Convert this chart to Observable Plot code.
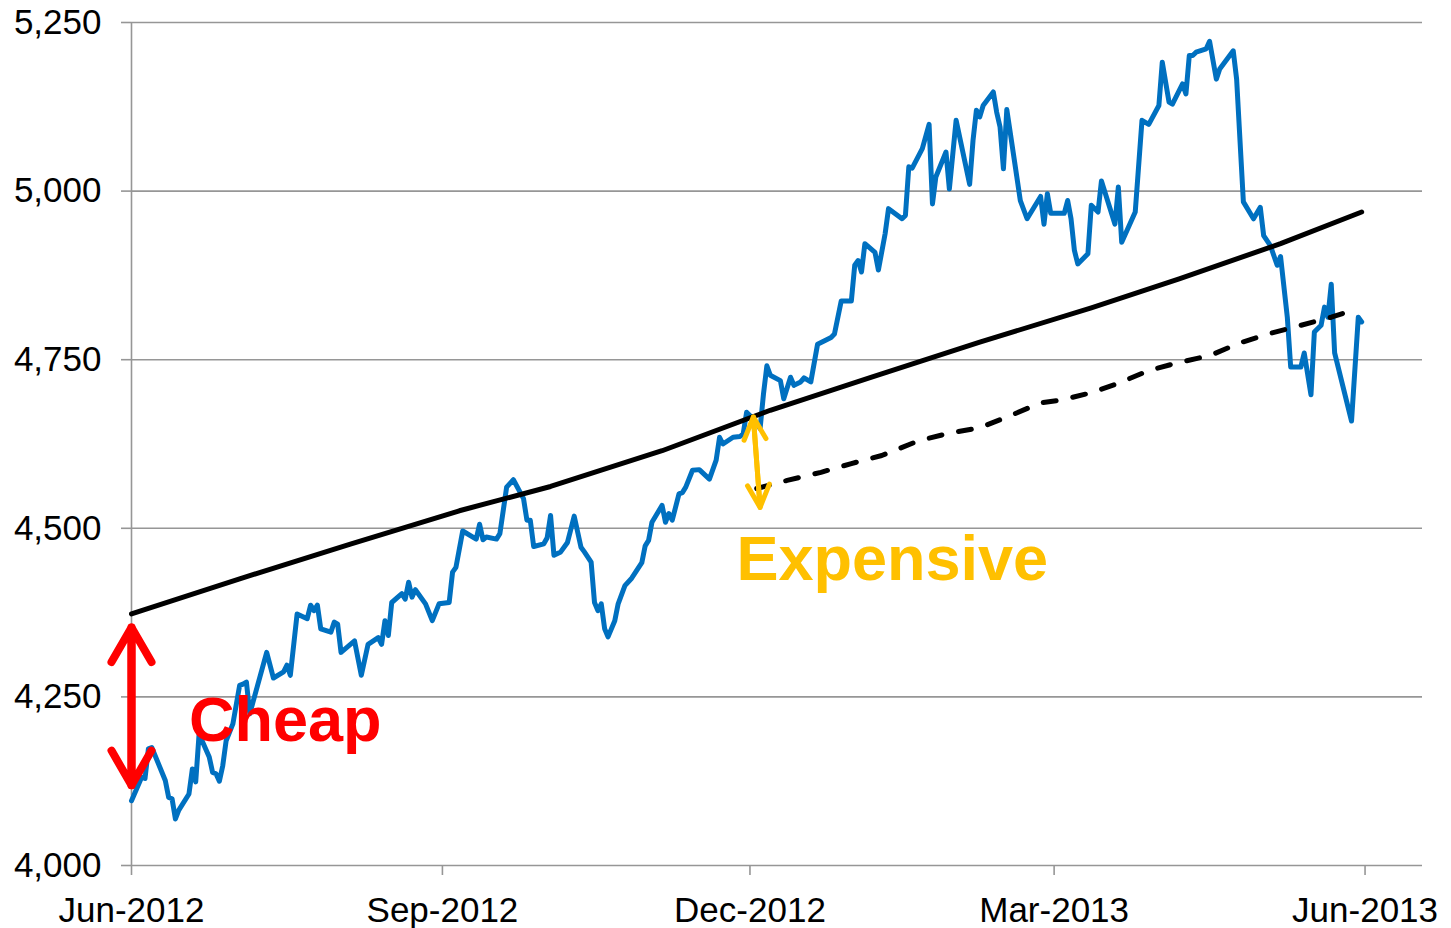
<!DOCTYPE html>
<html><head><meta charset="utf-8">
<script src="https://cdn.jsdelivr.net/npm/d3@7"></script>
<script src="https://cdn.jsdelivr.net/npm/@observablehq/plot@0.6"></script>
<style>body{margin:0;background:#fff}</style>
</head><body><div id="chart"></div>
<script>
// Blue index series
const indexDates = ["2012-06-01","2012-06-04","2012-06-05","2012-06-06","2012-06-07","2012-06-11","2012-06-12","2012-06-13","2012-06-14","2012-06-15","2012-06-18","2012-06-19","2012-06-20","2012-06-21","2012-06-24","2012-06-25","2012-06-26","2012-06-27","2012-06-28","2012-06-29","2012-07-01","2012-07-03","2012-07-04","2012-07-05","2012-07-06","2012-07-11","2012-07-13","2012-07-16","2012-07-17","2012-07-18","2012-07-20","2012-07-23","2012-07-24","2012-07-25","2012-07-26","2012-07-27","2012-07-30","2012-07-31","2012-08-01","2012-08-02","2012-08-06","2012-08-08","2012-08-10","2012-08-13","2012-08-14","2012-08-15","2012-08-16","2012-08-17","2012-08-20","2012-08-21","2012-08-22","2012-08-23","2012-08-24","2012-08-27","2012-08-29","2012-08-31","2012-09-03","2012-09-04","2012-09-05","2012-09-07","2012-09-11","2012-09-12","2012-09-13","2012-09-14","2012-09-17","2012-09-18","2012-09-20","2012-09-22","2012-09-25","2012-09-26","2012-09-27","2012-09-28","2012-10-01","2012-10-02","2012-10-03","2012-10-04","2012-10-06","2012-10-08","2012-10-10","2012-10-12","2012-10-13","2012-10-15","2012-10-16","2012-10-17","2012-10-18","2012-10-19","2012-10-20","2012-10-22","2012-10-23","2012-10-25","2012-10-27","2012-10-30","2012-10-31","2012-11-01","2012-11-02","2012-11-05","2012-11-06","2012-11-07","2012-11-08","2012-11-10","2012-11-11","2012-11-12","2012-11-14","2012-11-16","2012-11-19","2012-11-21","2012-11-22","2012-11-23","2012-11-26","2012-11-28","2012-11-29","2012-11-30","2012-12-02","2012-12-03","2012-12-04","2012-12-05","2012-12-06","2012-12-07","2012-12-10","2012-12-11","2012-12-13","2012-12-14","2012-12-16","2012-12-17","2012-12-19","2012-12-21","2012-12-25","2012-12-26","2012-12-28","2012-12-31","2013-01-01","2013-01-02","2013-01-03","2013-01-04","2013-01-07","2013-01-08","2013-01-10","2013-01-11","2013-01-15","2013-01-16","2013-01-17","2013-01-18","2013-01-21","2013-01-23","2013-01-24","2013-01-25","2013-01-28","2013-01-29","2013-01-31","2013-02-04","2013-02-05","2013-02-06","2013-02-07","2013-02-08","2013-02-11","2013-02-12","2013-02-13","2013-02-14","2013-02-15","2013-02-19","2013-02-21","2013-02-25","2013-02-26","2013-02-27","2013-02-28","2013-03-04","2013-03-05","2013-03-06","2013-03-07","2013-03-08","2013-03-11","2013-03-12","2013-03-14","2013-03-15","2013-03-19","2013-03-20","2013-03-21","2013-03-25","2013-03-27","2013-03-29","2013-04-01","2013-04-02","2013-04-04","2013-04-05","2013-04-08","2013-04-09","2013-04-10","2013-04-11","2013-04-12","2013-04-15","2013-04-16","2013-04-18","2013-04-19","2013-04-23","2013-04-24","2013-04-26","2013-04-29","2013-05-01","2013-05-02","2013-05-04","2013-05-06","2013-05-07","2013-05-09","2013-05-10","2013-05-13","2013-05-14","2013-05-15","2013-05-16","2013-05-17","2013-05-19","2013-05-20","2013-05-21","2013-05-22","2013-05-23","2013-05-28","2013-05-30","2013-05-31"];
const indexValues = [4096,4131,4129,4173,4175,4126,4101,4099,4069,4082,4106,4143,4124,4195,4161,4138,4136,4125,4148,4185,4210,4267,4269,4272,4225,4316,4278,4287,4297,4282,4373,4366,4386,4378,4386,4351,4346,4361,4358,4316,4333,4282,4328,4338,4328,4363,4341,4390,4403,4395,4420,4398,4409,4388,4363,4388,4390,4435,4442,4496,4484,4506,4483,4487,4484,4492,4561,4572,4544,4512,4512,4473,4477,4486,4519,4460,4465,4479,4518,4472,4465,4450,4390,4378,4388,4351,4339,4363,4388,4415,4426,4449,4474,4482,4509,4534,4509,4522,4512,4551,4553,4561,4586,4587,4573,4601,4635,4625,4635,4636,4640,4672,4662,4655,4648,4699,4741,4727,4719,4692,4724,4712,4717,4723,4717,4773,4783,4788,4837,4837,4890,4897,4880,4922,4909,4883,4937,4974,4959,4964,5036,5034,5063,5099,4981,5021,5058,5003,5105,5010,5075,5120,5110,5127,5147,5117,5095,5033,5121,4986,4959,4992,4951,4996,4967,4967,4986,4959,4912,4892,4907,4979,4969,5015,4951,5006,4924,4969,5105,5099,5127,5191,5132,5129,5159,5144,5201,5201,5206,5211,5222,5166,5181,5208,5166,4984,4959,4976,4934,4919,4890,4903,4813,4739,4739,4760,4729,4698,4791,4801,4828,4813,4862,4760,4659,4813,4806];

// Solid black trend line
const trendDates = ["2012-06-01","2012-07-03","2012-08-05","2012-09-06","2012-10-03","2012-11-05","2012-12-07","2013-01-06","2013-02-07","2013-03-12","2013-04-07","2013-05-07","2013-05-31"];
const trendValues = [4373,4425,4477,4526,4562,4615,4675,4724,4776,4827,4870,4922,4969];

// Dashed black line
const dashDates = ["2012-12-03","2012-12-12","2012-12-22","2012-12-31","2013-01-09","2013-01-20","2013-01-29","2013-02-07","2013-02-16","2013-02-25","2013-03-03","2013-03-12","2013-03-20","2013-03-29","2013-04-07","2013-04-16","2013-04-25","2013-05-04","2013-05-13","2013-05-22","2013-05-30"];
const dashValues = [4559,4571,4583,4596,4608,4630,4641,4649,4667,4686,4690,4701,4715,4734,4746,4756,4775,4789,4801,4813,4826];

const yTicks = [4000,4250,4500,4750,5000,5250];
const xTickDates = ["2012-06-01","2012-09-01","2012-12-01","2013-03-01","2013-06-01"];
const xTickLabels = ["Jun-2012","Sep-2012","Dec-2012","Mar-2013","Jun-2013"];
const xDomain = ["2012-06-01","2013-06-18"];

// Annotations
const labelTexts = ["Cheap","Expensive"];
const labelDates = ["2012-06-18","2012-11-27"];
const labelValues = [4185,4423];
const labelColors = ["#FF0000","#FFC000"];
// double-headed arrows: [date1, value1, date2, value2]
const cheapArrow = ["2012-06-01",4353,"2012-06-01",4119];
const expensiveArrow = ["2012-12-02",4665,"2012-12-04",4531];

const P = d3.utcParse("%Y-%m-%d");
const series = (ds, vs) => ds.map((d, i) => ({date: P(d), value: vs[i]}));
const indexData = series(indexDates, indexValues);
const trendData = series(trendDates, trendValues);
const dashData = series(dashDates, dashValues);
const labels = labelTexts.map((t, i) => ({text: t, date: P(labelDates[i]), value: labelValues[i], color: labelColors[i]}));
const arrowPair = (a) => [
  {x1: P(a[2]), y1: a[3], x2: P(a[0]), y2: a[1]},
  {x1: P(a[0]), y1: a[1], x2: P(a[2]), y2: a[3]}
];
const xTicks = xTickDates.map(P);
const x0 = P(xDomain[0]), x1 = P(xDomain[1]);

const chart = Plot.plot({
  width: 1451,
  height: 928,
  marginLeft: 131,
  marginRight: 29,
  marginTop: 22,
  marginBottom: 63,
  style: {fontFamily: "'Liberation Sans', Arial, sans-serif", background: "#fff", overflow: "visible"},
  x: {type: "utc", domain: [x0, x1]},
  y: {domain: [4000, 5250]},
  marks: [
    Plot.ruleY(yTicks, {x1: x0, x2: x1, stroke: "#969696", strokeWidth: 1.6}),
    Plot.ruleX([x0], {y1: 4000, y2: 5250, stroke: "#969696", strokeWidth: 1.6}),
    Plot.axisY({ticks: yTicks, tickFormat: d3.format(","), tickSize: 10, tickPadding: 20, fontSize: 35, stroke: "#969696", strokeWidth: 1.6, fill: "#000", label: null}),
    Plot.axisX({ticks: xTicks, tickFormat: (d, i) => xTickLabels[i], tickSize: 10, tickPadding: 22, fontSize: 35, stroke: "#969696", strokeWidth: 1.6, fill: "#000", label: null}),
    Plot.line(indexData, {x: "date", y: "value", stroke: "#0070C0", strokeWidth: 5, strokeLinejoin: "round", strokeLinecap: "round"}),
    Plot.line(trendData, {x: "date", y: "value", stroke: "#000", strokeWidth: 5, strokeLinejoin: "round", strokeLinecap: "round"}),
    Plot.line(dashData, {x: "date", y: "value", stroke: "#000", strokeWidth: 5, strokeDasharray: "13,17", strokeLinecap: "round"}),
    Plot.arrow(arrowPair(cheapArrow), {x1: "x1", y1: "y1", x2: "x2", y2: "y2", stroke: "#FF0000", strokeWidth: 8, headLength: 7.5, headAngle: 60}),
    Plot.arrow(arrowPair(expensiveArrow), {x1: "x1", y1: "y1", x2: "x2", y2: "y2", stroke: "#FFC000", strokeWidth: 5, headLength: 7.5, headAngle: 52}),
    Plot.text(labels, {x: "date", y: "value", text: "text", fill: "color", fontSize: 63, fontWeight: "bold", textAnchor: "start", lineAnchor: "bottom"})
  ]
});
document.getElementById("chart").appendChild(chart);
</script>
</body></html>
